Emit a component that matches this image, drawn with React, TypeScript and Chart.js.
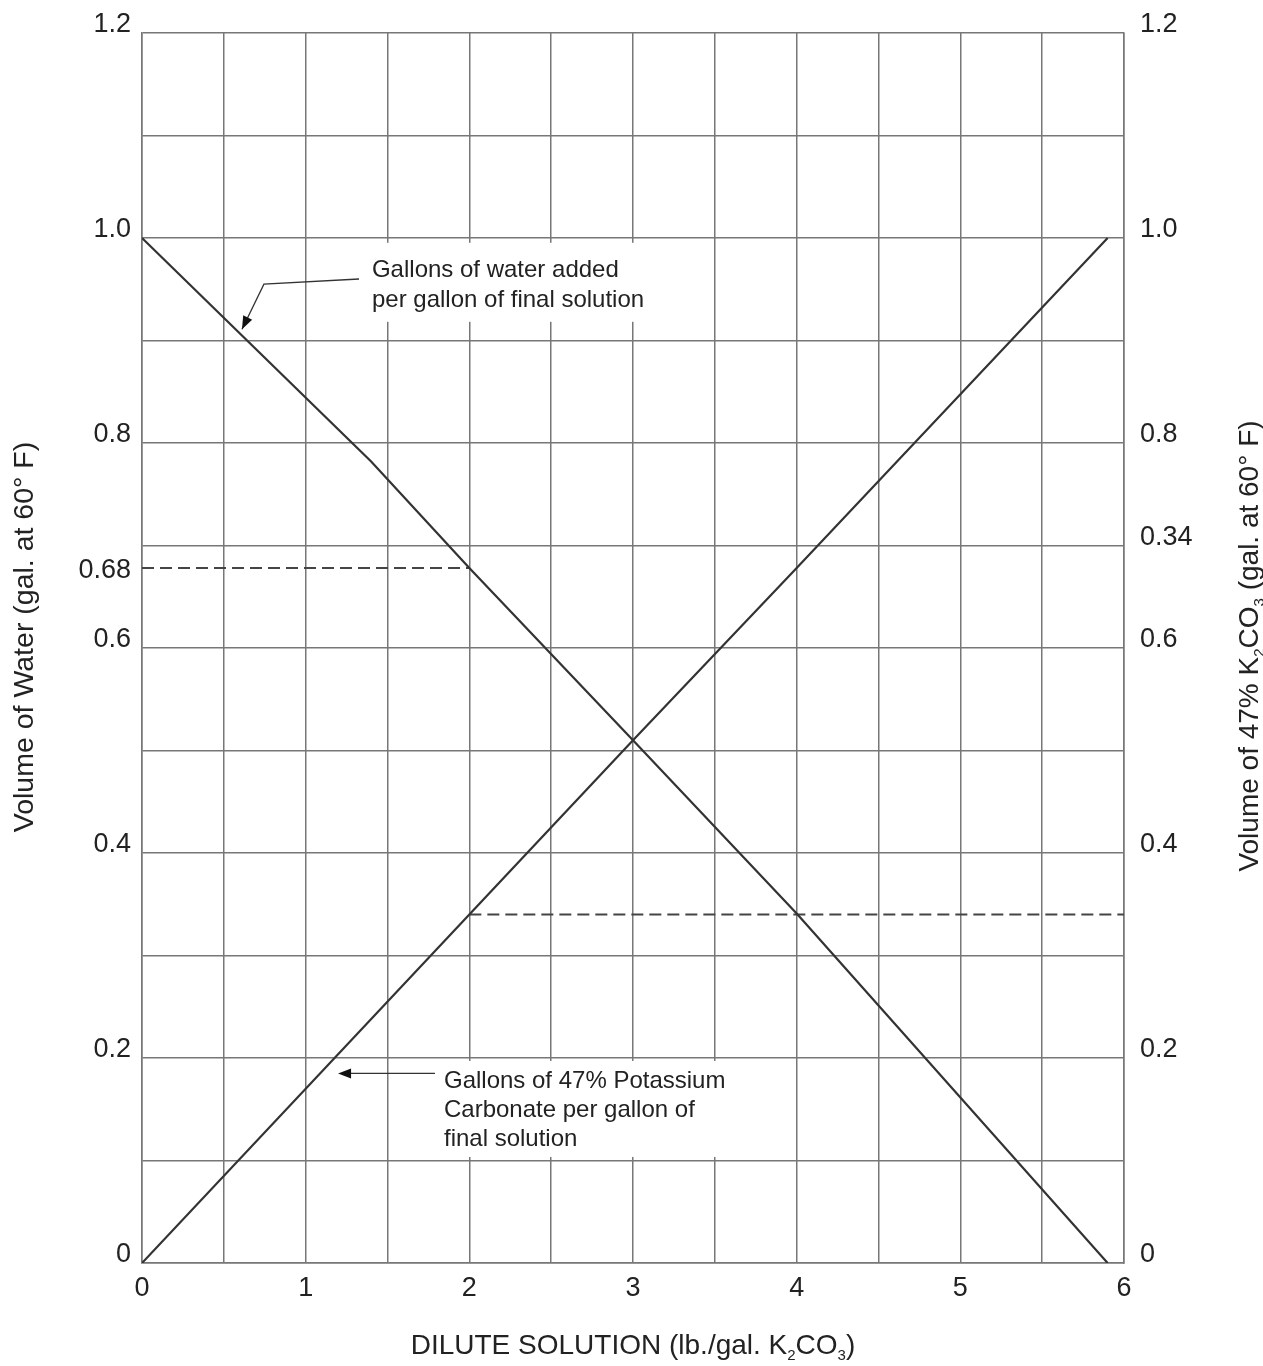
import React, { useEffect, useRef } from 'react';
import { Chart, registerables } from 'chart.js';

Chart.register(...registerables);

// ---------- data ----------
const xMin = 0;
const xMax = 6;
const xGridStep = 0.5;
const xTickLabelValues = [0, 1, 2, 3, 4, 5, 6];

const yMin = 0;
const yMax = 1.2;
const yGridValues = [0, 0.1, 0.2, 0.3, 0.4, 0.5, 0.6, 0.7, 0.8, 0.9, 1.0, 1.1, 1.2];

const leftTickValues = [0, 0.2, 0.4, 0.6, 0.68, 0.8, 1.0, 1.2];
const leftTickLabels = ['0', '0.2', '0.4', '0.6', '0.68', '0.8', '1.0', '1.2'];
const rightTickValues = [0, 0.2, 0.4, 0.6, 0.7, 0.8, 1.0, 1.2];
const rightTickLabels = ['0', '0.2', '0.4', '0.6', '0.34', '0.8', '1.0', '1.2'];

// Gallons of water added per gallon of final solution
const waterX = [0, 1.4, 2, 3, 4, 5.9];
const waterY = [1.0, 0.782, 0.678, 0.51, 0.341, 0];
// Gallons of 47% potassium carbonate per gallon of final solution
const carbX = [0, 2, 3, 4, 5.9];
const carbY = [0, 0.34, 0.51, 0.678, 1.0];
// dashed reference lines
const waterRefX = [0, 2];
const waterRefY = [0.678, 0.678];
const carbRefX = [2, 6];
const carbRefY = [0.34, 0.34];

const waterNoteLines = ['Gallons of water added', 'per gallon of final solution'];
const carbNoteLines = ['Gallons of 47% Potassium', 'Carbonate per gallon of', 'final solution'];

const xTitle = [{ t: 'DILUTE SOLUTION (lb./gal. K' }, { t: '2', sub: true }, { t: 'CO' }, { t: '3', sub: true }, { t: ')' }];
const leftTitle = [{ t: 'Volume of Water (gal. at 60° F)' }];
const rightTitle = [{ t: 'Volume of 47% K' }, { t: '2', sub: true }, { t: 'CO' }, { t: '3', sub: true }, { t: ' (gal. at 60° F)' }];

// ---------- style ----------
const FONT = '"Liberation Sans", Arial, Helvetica, sans-serif';
const TEXT = '#222222';
const GRID = '#777777';
const LINE = '#333333';

const pts = (xs: number[], ys: number[]) => xs.map((x, i) => ({ x, y: ys[i] }));
const near = (a: number, b: number) => Math.abs(a - b) < 1e-6;
const labelFor = (vals: number[], labels: string[], v: number) => {
  const i = vals.findIndex((u) => near(u, v));
  return i >= 0 ? labels[i] : '';
};
const isGrid = (v: number) => yGridValues.some((g) => near(g, v));

type Seg = { t: string; sub?: boolean };

function drawRich(ctx: CanvasRenderingContext2D, segs: Seg[], size: number, x: number, y: number, angle: number) {
  ctx.save();
  ctx.translate(x, y);
  ctx.rotate(angle);
  const subSize = Math.round(size * 0.55);
  const widths = segs.map((s) => {
    ctx.font = `${s.sub ? subSize : size}px ${FONT}`;
    return ctx.measureText(s.t).width;
  });
  const total = widths.reduce((a, b) => a + b, 0);
  let cx = -total / 2;
  ctx.fillStyle = TEXT;
  ctx.textBaseline = 'alphabetic';
  ctx.textAlign = 'left';
  segs.forEach((s, i) => {
    ctx.font = `${s.sub ? subSize : size}px ${FONT}`;
    ctx.fillText(s.t, cx, s.sub ? size * 0.22 : 0);
    cx += widths[i];
  });
  ctx.restore();
}

function arrowHead(ctx: CanvasRenderingContext2D, fx: number, fy: number, tx: number, ty: number) {
  const a = Math.atan2(ty - fy, tx - fx);
  const L = 13;
  const W = 5;
  ctx.beginPath();
  ctx.moveTo(tx, ty);
  ctx.lineTo(tx - L * Math.cos(a) + W * Math.sin(a), ty - L * Math.sin(a) - W * Math.cos(a));
  ctx.lineTo(tx - L * Math.cos(a) - W * Math.sin(a), ty - L * Math.sin(a) + W * Math.cos(a));
  ctx.closePath();
  ctx.fill();
}

const notesPlugin = {
  id: 'notesPlugin',
  afterDraw(chart: any) {
    const { ctx, scales } = chart;
    const xs = scales.x;
    const ys = scales.y;
    const px = (v: number) => xs.getPixelForValue(v);
    const py = (v: number) => ys.getPixelForValue(v);
    ctx.save();

    // --- note 1 (water) ---
    const n1x = px(1.405);
    const n1y = py(0.968);
    const lh = 30;
    ctx.font = `24px ${FONT}`;
    const w1 = Math.max(...waterNoteLines.map((s) => ctx.measureText(s).width));
    ctx.fillStyle = '#ffffff';
    ctx.fillRect(n1x - 8, n1y - 28, w1 + 14, lh * (waterNoteLines.length - 1) + 49);
    ctx.fillStyle = TEXT;
    ctx.textBaseline = 'middle';
    ctx.textAlign = 'left';
    waterNoteLines.forEach((s, i) => ctx.fillText(s, n1x, n1y + i * lh));

    ctx.strokeStyle = '#333';
    ctx.lineWidth = 1.3;
    ctx.beginPath();
    ctx.moveTo(px(1.326), py(0.96));
    ctx.lineTo(px(0.745), py(0.955));
    ctx.lineTo(px(0.611), py(0.911));
    ctx.stroke();
    ctx.fillStyle = '#111';
    arrowHead(ctx, px(0.745), py(0.955), px(0.611), py(0.911));

    // --- note 2 (carbonate) ---
    const n2x = px(1.845);
    const n2y = py(0.1776);
    const lh2 = 29;
    ctx.font = `24px ${FONT}`;
    const w2 = Math.max(...carbNoteLines.map((s) => ctx.measureText(s).width));
    ctx.fillStyle = '#ffffff';
    ctx.fillRect(n2x - 8, n2y - 20, w2 + 14, lh2 * (carbNoteLines.length - 1) + 38);
    ctx.fillStyle = TEXT;
    ctx.textBaseline = 'middle';
    carbNoteLines.forEach((s, i) => ctx.fillText(s, n2x, n2y + i * lh2));

    ctx.beginPath();
    ctx.moveTo(px(1.79), py(0.185));
    ctx.lineTo(px(1.198) + 6, py(0.185));
    ctx.stroke();
    ctx.fillStyle = '#111';
    arrowHead(ctx, px(1.79), py(0.185), px(1.198), py(0.185));

    // --- axis titles ---
    const area = chart.chartArea;
    drawRich(ctx, xTitle, 28, (area.left + area.right) / 2, 1354, 0);
    drawRich(ctx, leftTitle, 28.5, 33, 637, -Math.PI / 2);
    drawRich(ctx, rightTitle, 28, 1258, 646, -Math.PI / 2);

    ctx.restore();
  },
};

export default function App() {
  const ref = useRef<HTMLCanvasElement | null>(null);

  useEffect(() => {
    document.body.style.margin = '0';
    const canvas = ref.current;
    if (!canvas) return;
    const tickFont = { family: FONT, size: 27 };

    const chart = new Chart(canvas, {
      type: 'line',
      data: {
        datasets: [
          { data: pts(waterX, waterY), borderColor: LINE, borderWidth: 2.2, pointRadius: 0, fill: false, tension: 0, yAxisID: 'y' },
          { data: pts(carbX, carbY), borderColor: LINE, borderWidth: 2.2, pointRadius: 0, fill: false, tension: 0, yAxisID: 'y' },
          { data: pts(waterRefX, waterRefY), borderColor: '#444', borderWidth: 2, borderDash: [12, 6], pointRadius: 0, fill: false, yAxisID: 'y' },
          { data: pts(carbRefX, carbRefY), borderColor: '#444', borderWidth: 2, borderDash: [12, 6], pointRadius: 0, fill: false, yAxisID: 'y' },
        ],
      },
      options: {
        responsive: false,
        animation: false,
        devicePixelRatio: 1,
        layout: { padding: { top: 33, left: 0, right: 0, bottom: 0 } },
        plugins: { legend: { display: false }, tooltip: { enabled: false }, title: { display: false } },
        scales: {
          x: {
            type: 'linear',
            min: xMin,
            max: xMax,
            afterFit: (s: any) => { s.height = 103; },
            grid: { color: GRID, lineWidth: 1.5, drawTicks: false },
            border: { display: true, color: GRID, width: 1.5 },
            ticks: {
              stepSize: xGridStep,
              autoSkip: false,
              maxRotation: 0,
              padding: 9,
              font: tickFont,
              color: TEXT,
              callback: (v: any) => (xTickLabelValues.some((u) => near(u, Number(v))) ? String(Math.round(Number(v))) : ''),
            },
          },
          y: {
            type: 'linear',
            position: 'left',
            min: yMin,
            max: yMax,
            afterFit: (s: any) => { s.width = 142; },
            afterBuildTicks: (s: any) => {
              const vals = [...yGridValues, ...leftTickValues.filter((v) => !isGrid(v))].sort((a, b) => a - b);
              s.ticks = vals.map((value) => ({ value }));
            },
            grid: {
              drawTicks: false,
              lineWidth: 1.5,
              color: (c: any) => (c.tick && !isGrid(c.tick.value) ? 'rgba(0,0,0,0)' : GRID),
            },
            border: { display: true, color: GRID, width: 1.5 },
            ticks: {
              autoSkip: false,
              padding: 11,
              labelOffset: -8,
              font: { family: FONT, size: 27, lineHeight: '26px' },
              color: TEXT,
              callback: (v: any) => {
                const n = Number(v);
                const lab = labelFor(leftTickValues, leftTickLabels, n);
                // off-grid reference label sits on its own value (second line shifts it back down)
                return lab && !isGrid(n) ? ['', lab] : lab;
              },
            },
          },
          y2: {
            type: 'linear',
            position: 'right',
            min: yMin,
            max: yMax,
            afterFit: (s: any) => { s.width = 139; },
            afterBuildTicks: (s: any) => {
              s.ticks = yGridValues.map((value) => ({ value }));
            },
            grid: { display: false, drawTicks: false },
            border: { display: true, color: GRID, width: 1.5 },
            ticks: {
              autoSkip: false,
              padding: 16,
              labelOffset: -8,
              font: tickFont,
              color: TEXT,
              callback: (v: any) => labelFor(rightTickValues, rightTickLabels, Number(v)),
            },
          },
        },
      } as any,
      plugins: [notesPlugin],
    });
    return () => chart.destroy();
  }, []);

  return (
    <div style={{ width: 1263, height: 1366, background: '#fff' }}>
      <canvas ref={ref} width={1263} height={1366} style={{ display: 'block' }} />
    </div>
  );
}
